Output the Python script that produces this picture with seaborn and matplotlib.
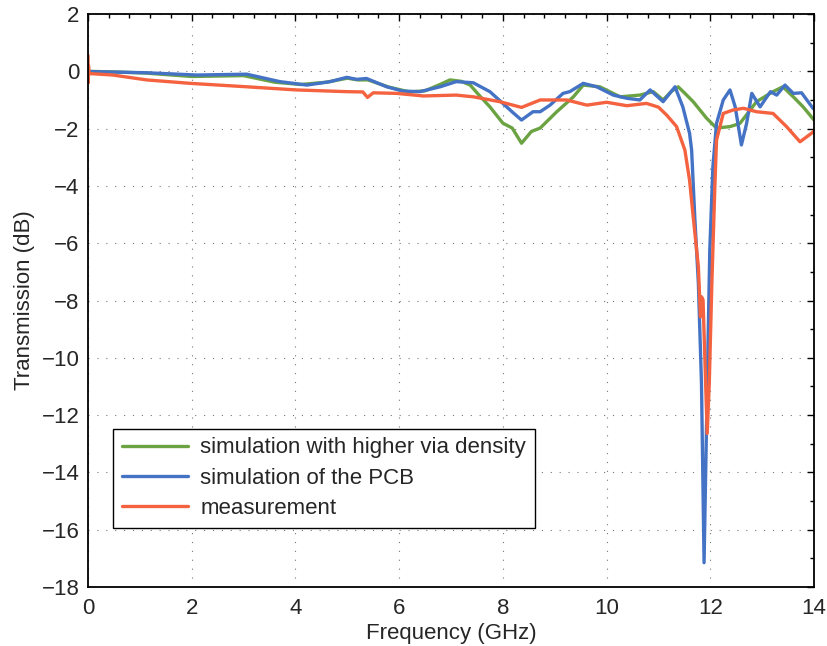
import numpy as np
import pandas as pd
import matplotlib
matplotlib.use("Agg")
import matplotlib.pyplot as plt
import seaborn as sns
from matplotlib.ticker import MultipleLocator

# --- data ---
green_f = [0.0, 0.5, 1.1, 2.0, 3.0, 3.6, 4.1, 4.6, 5.0, 5.2, 5.4, 5.8, 6.2, 6.5, 6.8, 6.98, 7.2, 7.37,
           7.55, 7.75, 8.0, 8.18, 8.36, 8.55, 8.72, 9.04, 9.36, 9.55, 9.87, 10.26, 10.64, 10.9, 11.09,
           11.25, 11.38, 11.5, 11.67, 11.93, 12.12, 12.38, 12.57, 12.75, 12.89, 13.21, 13.4, 13.6,
           13.79, 14.0]
green_db = [0.0, -0.02, -0.06, -0.18, -0.15, -0.38, -0.46, -0.38, -0.24, -0.3, -0.3, -0.55, -0.72,
            -0.68, -0.45, -0.3, -0.35, -0.48, -0.85, -1.24, -1.81, -1.98, -2.51, -2.1, -1.98, -1.41,
            -0.89, -0.48, -0.54, -0.89, -0.83, -0.71, -1.0, -0.7, -0.54, -0.75, -1.06, -1.64, -1.98,
            -1.93, -1.82, -1.4, -1.06, -0.71, -0.54, -0.89, -1.24, -1.7]

blue_f = [0.0, 0.04, 1.13, 2.1, 3.06, 3.7, 4.22, 4.67, 4.99, 5.18, 5.37, 5.76, 6.07, 6.4, 6.79,
          7.1, 7.43, 7.75, 8.0, 8.2, 8.36, 8.58, 8.72, 8.91, 9.16, 9.29, 9.55, 9.81, 10.13, 10.39,
          10.64, 10.84, 11.09, 11.32, 11.47, 11.6, 11.64, 11.7, 11.77, 11.83, 11.88, 11.93, 11.99,
          12.05, 12.12, 12.25, 12.38, 12.48, 12.6, 12.7, 12.8, 12.96, 13.16, 13.28, 13.44,
          13.6, 13.76, 13.98, 14.0]
blue_db = [0.0, -0.01, -0.05, -0.13, -0.1, -0.36, -0.48, -0.36, -0.21, -0.28, -0.25, -0.54,
           -0.69, -0.71, -0.54, -0.36, -0.4, -0.71, -1.12, -1.45, -1.7, -1.41, -1.41, -1.18, -0.77,
           -0.71, -0.42, -0.54, -0.83, -0.94, -1.0, -0.65, -1.06, -0.54, -1.24, -2.16, -2.75,
           -5.07, -7.4, -10.9, -17.15, -12.06, -6.24, -3.33, -1.82, -1.0, -0.65, -1.24, -2.57,
           -1.82, -0.77, -1.24, -0.71, -0.83, -0.48, -0.77, -0.75, -1.29, -1.32]

red_f = [0.0, 0.005, 0.01, 0.02, 0.05, 0.48, 1.13, 1.97, 3.06, 4.02, 4.99, 5.3, 5.39, 5.5, 5.95,
         6.47, 7.1, 7.43, 7.94, 8.36, 8.72, 9.23, 9.62, 10.0, 10.39, 10.77, 11.0, 11.16, 11.35,
         11.51, 11.6, 11.67, 11.77, 11.81, 11.83, 11.86, 11.89, 11.94, 11.98, 12.03, 12.09, 12.12,
         12.25, 12.44, 12.64, 12.89, 13.21, 13.47, 13.73, 13.99, 14.0]
red_db = [0.55, -0.4, 0.2, -0.1, -0.08, -0.13, -0.3, -0.42, -0.54, -0.65, -0.71, -0.72, -0.91,
          -0.75, -0.77, -0.86, -0.83, -0.89, -1.06, -1.26, -1.0, -1.0, -1.18, -1.08, -1.2, -1.12,
          -1.25, -1.53, -1.93, -2.75, -3.8, -5.07, -6.82, -8.57, -7.87, -7.98, -9.73, -12.64,
          -10.9, -7.4, -3.9, -2.4, -1.47, -1.35, -1.29, -1.41, -1.47, -1.93, -2.46, -2.11, -2.08]

labels = ["simulation with higher via density", "simulation of the PCB", "measurement"]
colors = ["#6ba342", "#4472c4", "#f4623f"]

frames = []
for lab, f, d in zip(labels, [green_f, blue_f, red_f], [green_db, blue_db, red_db]):
    frames.append(pd.DataFrame({"Frequency": f, "Transmission": d, "series": lab}))
df = pd.concat(frames, ignore_index=True)

sns.set_style("white")
plt.rcParams["font.family"] = ["Liberation Sans", "DejaVu Sans"]
plt.rcParams["font.size"] = 16

fig = plt.figure(figsize=(8.27, 6.46), dpi=100)
ax = fig.add_axes([0.1064, 0.0913, 0.8779, 0.887])

sns.lineplot(data=df, x="Frequency", y="Transmission", hue="series", hue_order=labels,
             palette=colors, estimator=None, sort=False, linewidth=2.4, ax=ax)

ax.set_xlim(0, 14)
ax.set_ylim(-18, 2)
ax.xaxis.set_major_locator(MultipleLocator(2))
ax.xaxis.set_minor_locator(MultipleLocator(0.4))
ax.yaxis.set_minor_locator(MultipleLocator(1))
yt = np.arange(-18, 3, 2)
ax.set_yticks(yt)
ax.set_yticklabels(["\u2212%d" % -v if v < 0 else "%d" % v for v in yt])
ax.tick_params(which="both", direction="in", top=True, right=True, labelsize=16, width=1.0,
               color="black")
ax.tick_params(axis="x", which="major", pad=8)
ax.tick_params(axis="y", which="major", pad=6)
ax.tick_params(which="major", length=5)
ax.tick_params(which="minor", length=3)
ax.grid(True, which="major", linestyle=(0, (1, 7)), color="#777777", linewidth=0.8)
for s in ax.spines.values():
    s.set_visible(True)
    s.set_color("black")
    s.set_linewidth(1.3)

ax.set_xlabel("Frequency (GHz)", fontsize=16, labelpad=3)
ax.set_ylabel("Transmission (dB)", fontsize=16, labelpad=5)

leg = ax.legend(loc="lower left", bbox_to_anchor=(0.034, 0.103), fontsize=16, frameon=True,
                fancybox=False, edgecolor="black", framealpha=1, handlelength=3.0,
                handletextpad=0.55, borderpad=0.4, labelspacing=0.42, borderaxespad=0)
leg.get_frame().set_linewidth(1.0)
leg.set_title(None)

fig.savefig("out.png", dpi=100)
